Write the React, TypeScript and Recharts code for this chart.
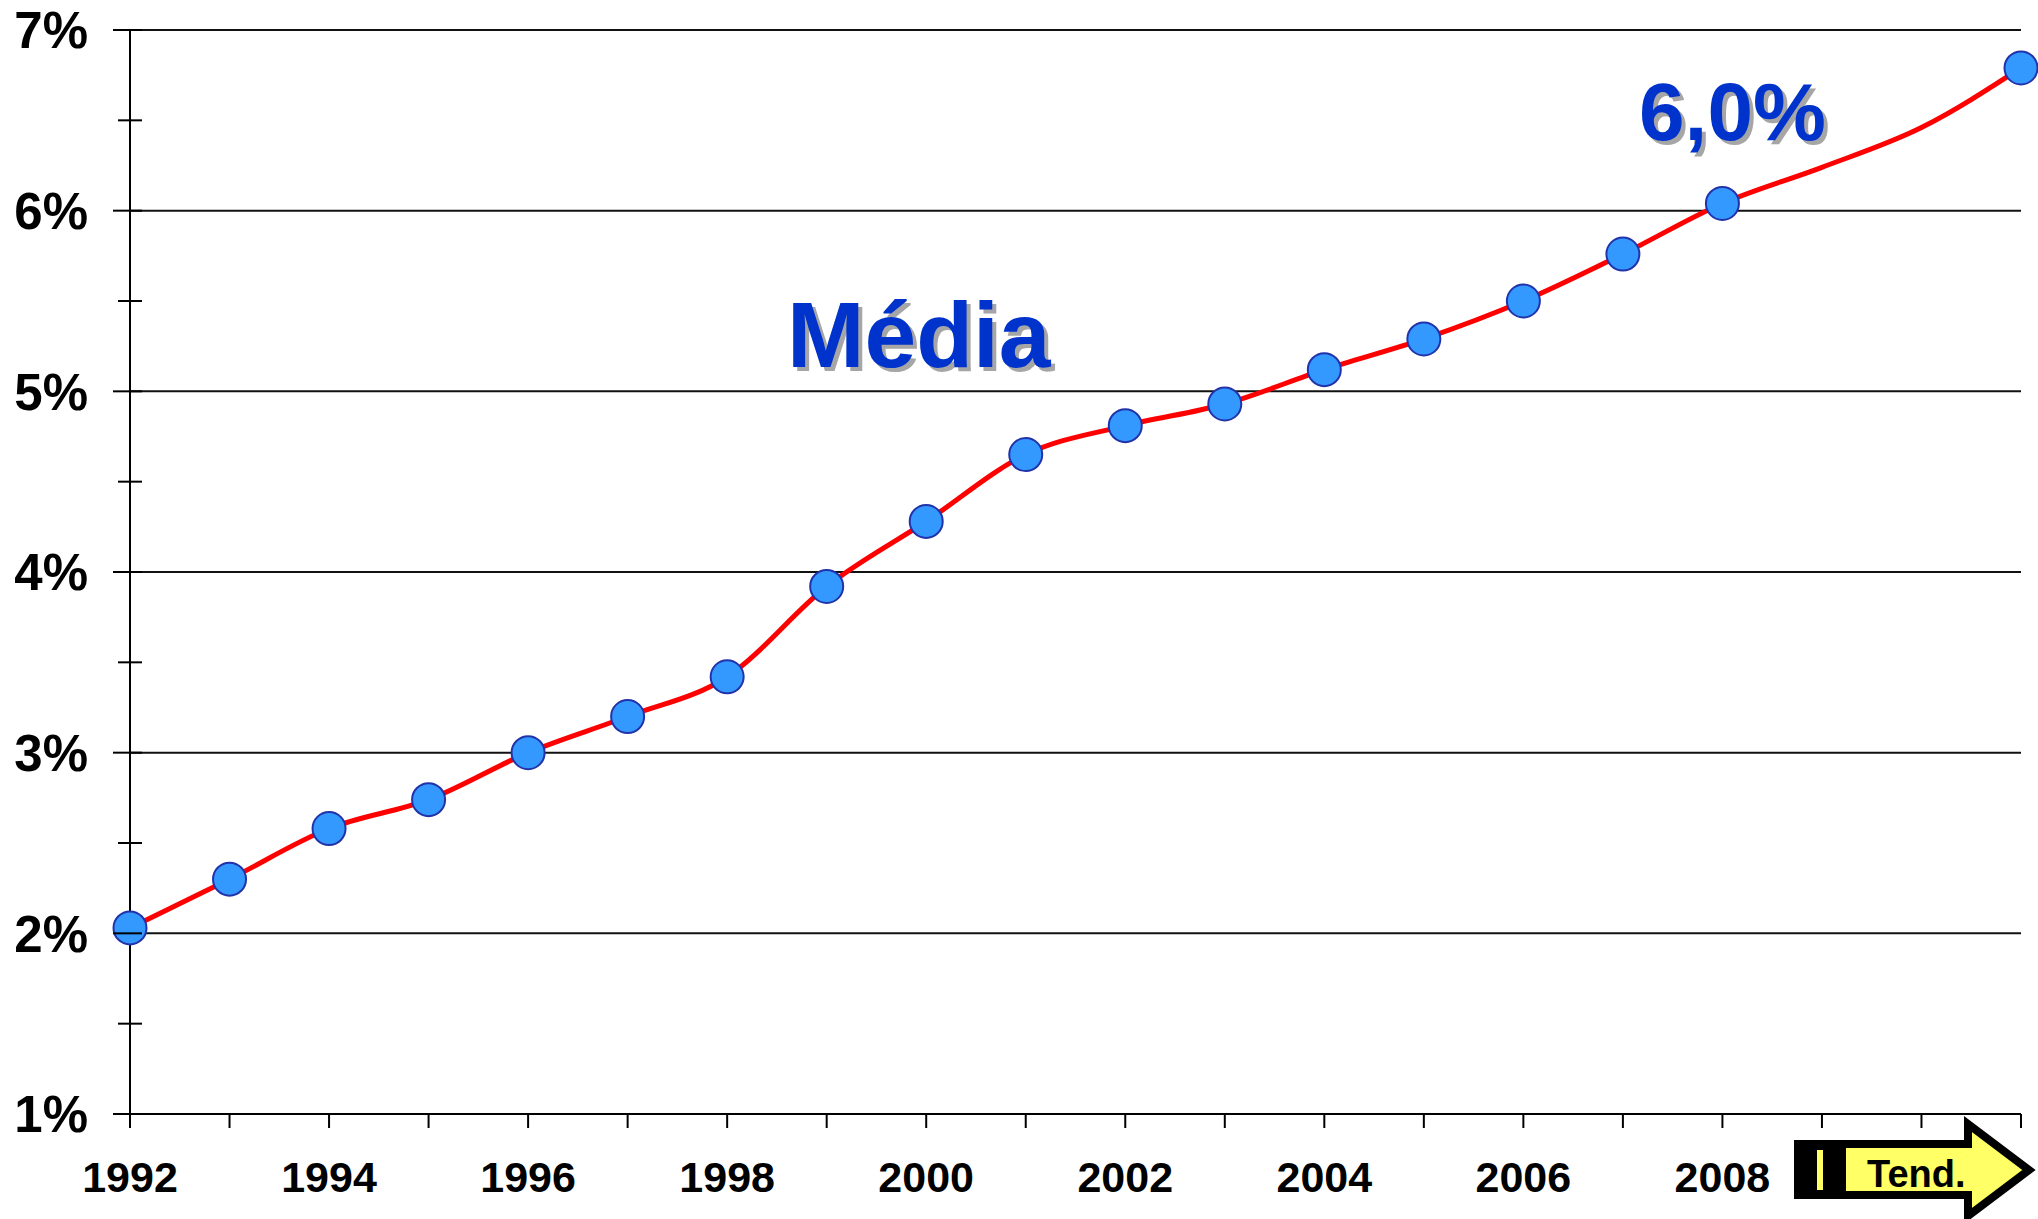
import { LineChart, Line, XAxis, YAxis, CartesianGrid } from "recharts";

// yearly average, 2009-2010 are only the trend curve (no marker)
const years = [1992, 1993, 1994, 1995, 1996, 1997, 1998, 1999, 2000, 2001, 2002, 2003, 2004, 2005, 2006, 2007, 2008, 2009, 2010, 2011];
const media = [2.03, 2.3, 2.58, 2.74, 3.0, 3.2, 3.42, 3.92, 4.28, 4.65, 4.81, 4.93, 5.12, 5.29, 5.5, 5.76, 6.04, 6.24, 6.46, 6.79];
const marked = [true, true, true, true, true, true, true, true, true, true, true, true, true, true, true, true, true, false, false, true];

const yTicks = [1, 1.5, 2, 2.5, 3, 3.5, 4, 4.5, 5, 5.5, 6, 6.5, 7];
const gridValues = [2, 3, 4, 5, 6, 7];
const labelledYears = [1992, 1994, 1996, 1998, 2000, 2002, 2004, 2006, 2008];

const data = years.map((year, i) => ({ year, value: media[i], mark: marked[i] }));

const FONT = "'Liberation Sans', Arial, sans-serif";
const BLUE = "#0033CC";

function YTick({ x, y, payload }: any) {
  const major = Number.isInteger(payload.value);
  return (
    <g>
      <line x1={x - (major ? 17 : 12)} x2={x + 12} y1={y} y2={y} stroke="#000" strokeWidth={2} />
      {major && (
        <text x={x - 42} y={y} dy="0.36em" textAnchor="end" fontFamily={FONT} fontWeight="bold" fontSize={51} fill="#000">
          {payload.value}%
        </text>
      )}
    </g>
  );
}

function XTick({ x, y, payload }: any) {
  if (!labelledYears.includes(payload.value)) return <g />;
  return (
    <text x={x} y={y} dy={64} textAnchor="middle" fontFamily={FONT} fontWeight="bold" fontSize={43} fill="#000">
      {payload.value}
    </text>
  );
}

function Marker(p: any) {
  if (!p.payload.mark) return <g key={p.index} />;
  return <circle key={p.index} cx={p.cx} cy={p.cy} r={16.5} fill="#3399FF" stroke="#2233AA" strokeWidth={2} />;
}

function ShadowText({ x, y, size, children }: any) {
  return (
    <g fontFamily={FONT} fontWeight="bold" fontSize={size}>
      <text x={x + 4} y={y + 4} fill="#A6A6A6">{children}</text>
      <text x={x} y={y} fill={BLUE}>{children}</text>
    </g>
  );
}

export default function App() {
  return (
    <div style={{ position: "absolute", left: 0, top: 0, width: 2038, height: 1219, background: "#fff" }}>
      <LineChart width={2038} height={1219} data={data} margin={{ top: 30, right: 17, bottom: 0, left: 0 }}>
        <CartesianGrid vertical={false} horizontalValues={gridValues} stroke="#111" strokeWidth={2} />
        <XAxis
          type="number"
          dataKey="year"
          domain={[1992, 2011]}
          ticks={years}
          interval={0}
          height={105}
          tickSize={14}
          tickMargin={0}
          axisLine={{ stroke: "#000", strokeWidth: 2 }}
          tickLine={{ stroke: "#000", strokeWidth: 2 }}
          tick={<XTick />}
        />
        <YAxis
          type="number"
          domain={[1, 7]}
          ticks={yTicks}
          interval={0}
          width={130}
          tickSize={0}
          tickMargin={0}
          axisLine={{ stroke: "#000", strokeWidth: 2 }}
          tickLine={false}
          tick={<YTick />}
        />
        <Line
          type="monotone"
          dataKey="value"
          stroke="#FF0000"
          strokeWidth={5}
          dot={Marker}
          activeDot={false}
          isAnimationActive={false}
        />
      </LineChart>
      <svg width={2038} height={1219} style={{ position: "absolute", left: 0, top: 0, pointerEvents: "none" }}>
        <ShadowText x={787} y={367} size={93}>Média</ShadowText>
        <ShadowText x={1639} y={140} size={82}>6,0%</ShadowText>
        {/* "Tend." arrow */}
        <rect x={1794} y={1140} width={48} height={59} fill="#000" />
        <rect x={1817} y={1150} width={6} height={40} fill="#FFFF66" />
        <polygon
          points="1842,1144 1968,1144 1968,1124 2029,1170 1968,1216 1968,1195 1842,1195"
          fill="#FFFF66"
          stroke="#000"
          strokeWidth={8}
          strokeLinejoin="miter"
        />
        <text x={1867} y={1187} fontFamily={FONT} fontWeight="bold" fontSize={38} fill="#000">Tend.</text>
      </svg>
    </div>
  );
}
